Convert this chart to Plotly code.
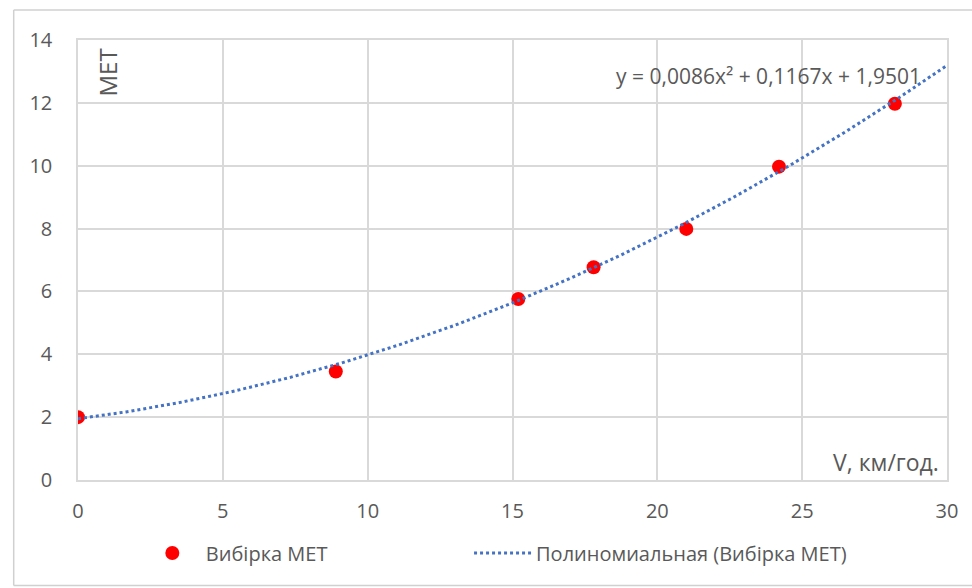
import numpy as np
import plotly.graph_objects as go

# Sample points: speed V (km/h) vs MET
speed_kmh = [0.0, 8.9, 15.2, 17.8, 21.0, 24.2, 28.2]
met_values = [2.0, 3.45, 5.76, 6.77, 7.99, 9.97, 11.97]

# Second-order polynomial trendline coefficients (a*x^2 + b*x + c)
trend_coeffs = [0.0086, 0.1167, 1.9501]
trend_label = "y = 0,0086x\u00b2 + 0,1167x + 1,9501"

x_ticks = [0, 5, 10, 15, 20, 25, 30]
y_ticks = [0, 2, 4, 6, 8, 10, 12, 14]

FONT = "Open Sans"
GREY = "#595959"
GRID = "#d9d9d9"

x_trend = np.linspace(0, 30, 200)
y_trend = np.polyval(trend_coeffs, x_trend)

fig = go.Figure()
fig.add_trace(go.Scatter(
    x=speed_kmh, y=met_values, mode="markers",
    name="Вибірка МЕТ", legend="legend",
    marker=dict(color="#ff0000", size=14, line=dict(width=0)),
))
fig.add_trace(go.Scatter(
    x=x_trend, y=y_trend, mode="lines",
    name="Полиномиальная (Вибірка МЕТ)", legend="legend2",
    line=dict(color="#4472c4", width=3, dash="dot"),
))

legend_common = dict(
    orientation="h", xanchor="left", y=-0.166, yanchor="middle",
    font=dict(family=FONT, size=20, color=GREY), itemwidth=57,
    bgcolor="rgba(0,0,0,0)",
)

fig.update_layout(
    width=972, height=588,
    margin=dict(l=78, r=25, t=40, b=108),
    paper_bgcolor="white", plot_bgcolor="white",
    font=dict(family=FONT, color=GREY, size=18),
    showlegend=True,
    legend=dict(x=0.070, **legend_common),
    legend2=dict(x=0.450, **legend_common),
    xaxis=dict(
        range=[0, 30], tickvals=x_ticks, showgrid=True, gridcolor=GRID, gridwidth=1.5,
        showline=True, linecolor=GRID, linewidth=1.5, mirror=True, zeroline=False,
        ticks="", ticklabelstandoff=12, tickfont=dict(size=20, color=GREY),
    ),
    yaxis=dict(
        range=[0, 14], tickvals=y_ticks, showgrid=True, gridcolor=GRID, gridwidth=1.5,
        showline=True, linecolor=GRID, linewidth=1.5, mirror=True, zeroline=False,
        ticks="outside", ticklen=20, tickcolor="rgba(0,0,0,0)",
        tickfont=dict(size=20, color=GREY),
    ),
    annotations=[
        dict(text=trend_label, x=0.972, y=0.918, xref="paper", yref="paper",
             xanchor="right", yanchor="middle", showarrow=False,
             font=dict(size=21, color=GREY, family=FONT)),
        dict(text="МЕТ", x=0.034, y=0.925, xref="paper", yref="paper",
             xanchor="center", yanchor="middle", showarrow=False, textangle=-90,
             font=dict(size=24, color=GREY, family=FONT)),
        dict(text="V, км/год.", x=0.993, y=0.04, xref="paper", yref="paper",
             xanchor="right", yanchor="middle", showarrow=False,
             font=dict(size=23, color=GREY, family=FONT)),
    ],
    shapes=[
        # outer chart frame
        dict(type="line", xref="paper", yref="paper", x0=-0.074, x1=1.03,
             y0=1.068, y1=1.068, line=dict(color="#d0d0d0", width=1.5)),
        dict(type="line", xref="paper", yref="paper", x0=-0.074, x1=-0.074,
             y0=1.068, y1=-0.24, line=dict(color="#d0d0d0", width=1.5)),
        dict(type="line", xref="paper", yref="paper", x0=-0.074, x1=1.03,
             y0=-0.24, y1=-0.24, line=dict(color="#d0d0d0", width=1.5)),
    ],
)

fig.write_html("out.html")
